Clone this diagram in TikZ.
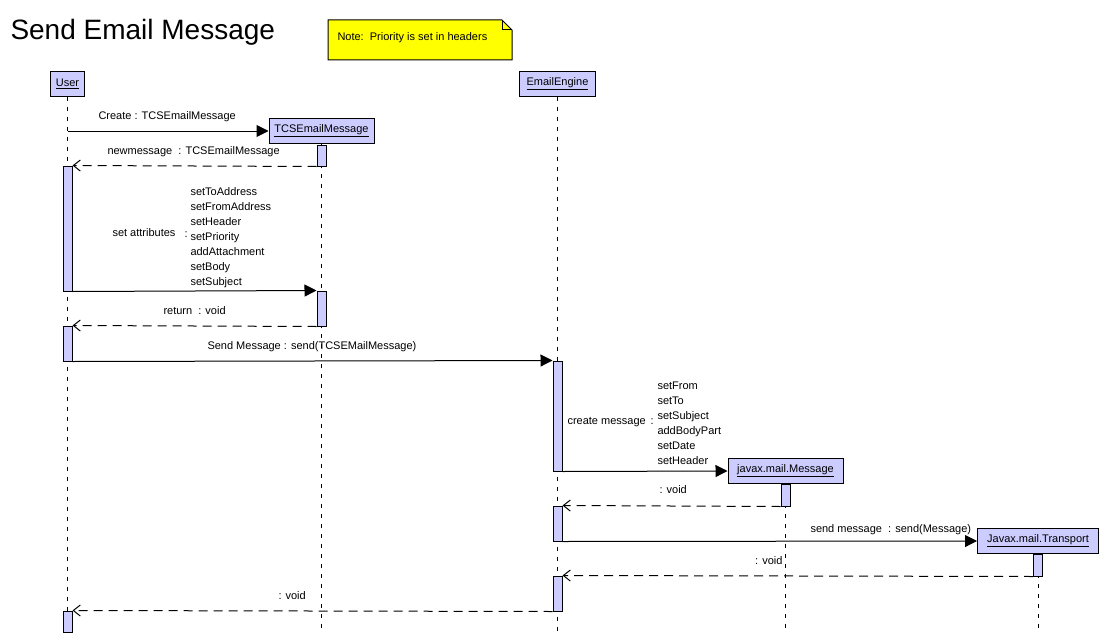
\documentclass[tikz,border=0pt]{standalone}
\usepackage{fontspec}
\setmainfont{Liberation Sans}
\usetikzlibrary{arrows.meta}

\definecolor{objfill}{RGB}{204,204,255}
\definecolor{notefill}{RGB}{255,255,0}

\tikzset{
  obj/.style={draw, fill=objfill, inner sep=0pt, minimum height=25pt},
  act/.style={draw, fill=objfill, inner sep=0pt, minimum width=9pt},
  life/.style={dash pattern=on 4pt off 6pt},
  call/.style={-{Triangle[length=12pt,width=12pt]}},
  reply/.style={dash pattern=on 9pt off 6pt, -{Straight Barb[length=7pt,width=11pt]}},
  txt/.style={inner sep=0pt, anchor=base west}
}

\begin{document}
\begin{tikzpicture}[x=1pt, y=-1pt, line width=1pt, font=\fontsize{11}{13}\selectfont]

	\fill[white] (0,0) rectangle (1110,642);
	\useasboundingbox (0,0) rectangle (1110,642);

	% title and note
	\node[txt, font=\fontsize{28}{32}\selectfont] (title) at (10,40) {Send Email Message};
	\filldraw[fill=notefill] (328,20) -- (502,20) -- (512,30) -- (512,60) -- (328,60) -- cycle;
	\draw (502,20) -- (502,30) -- (512,30);
	\node[txt] (note) at (337,41) {Note:\ \ Priority is set in headers};

	% objects
	\node[obj, minimum width=34pt] (user) at (67.5,83.5) {\underline{User}};
	\node[obj, minimum width=105pt] (tcs) at (321.5,131) {\underline{TCSEmailMessage}};
	\node[obj, minimum width=76pt] (engine) at (557.5,83.5) {\underline{EmailEngine}};
	\node[obj, minimum width=115pt] (javax) at (785.5,471) {\underline{javax.mail.Message}};
	\node[obj, minimum width=121pt] (trans) at (1038,541) {\underline{Javax.mail.Transport}};

	% lifelines
	\coordinate (bottom) at (0,633);
	\draw[life] (user.south) -- (user.south |- bottom);
	\draw[life] (tcs.south) -- (tcs.south |- bottom);
	\draw[life] (engine.south) -- (engine.south |- bottom);
	\draw[life] (javax.south) -- (javax.south |- bottom);
	\draw[life] (trans.south) -- (trans.south |- bottom);

	% activations
	\node[act, minimum height=21pt] (t1) at (321.5,155.5) {};
	\node[act, minimum height=125pt] (u1) at (67.5,228.5) {};
	\node[act, minimum height=35pt] (t2) at (321.5,308.5) {};
	\node[act, minimum height=35pt] (u2) at (67.5,343.5) {};
	\node[act, minimum height=110pt] (e1) at (557.5,416) {};
	\node[act, minimum height=22pt] (j1) at (785.5,495) {};
	\node[act, minimum height=35pt] (e2) at (557.5,523.5) {};
	\node[act, minimum height=22pt] (r1) at (1038,565) {};
	\node[act, minimum height=35pt] (e3) at (557.5,593.5) {};
	\node[act, minimum height=21pt] (u3) at (67.5,621.5) {};

	% messages
	\draw[call] (user.south |- tcs.west) -- (tcs.west);
	\draw[reply] (t1.south west) -- (u1.north east);
	\draw[call] (u1.south east) -- (t2.north west);
	\draw[reply] (t2.south west) -- (u2.north east);
	\draw[call] (u2.south east) -- (e1.north west);
	\draw[call] (e1.south east) -- (javax.west);
	\draw[reply] (j1.south west) -- (e2.north east);
	\draw[call] (e2.south east) -- (trans.west);
	\draw[reply] (r1.south west) -- (e3.north east);
	\draw[reply] (e3.south west) -- (u3.north east);

	% message labels
	\node[txt] (create) at (98,119) {Create : TCSEmailMessage};
	\node[txt] (newmsg) at (107,154) {newmessage\ \ : TCSEmailMessage};

	\node[txt] (setattr) at (112,236) {set attributes};
	\node[txt] (setcolon) at (184,237) {:};
	\node[txt] (sa1) at (190,195) {setToAddress};
	\node[txt] (sa2) at (190,210) {setFromAddress};
	\node[txt] (sa3) at (190,225) {setHeader};
	\node[txt] (sa4) at (190,240) {setPriority};
	\node[txt] (sa5) at (190,255) {addAttachment};
	\node[txt] (sa6) at (190,270) {setBody};
	\node[txt] (sa7) at (190,285) {setSubject};

	\node[txt] (ret) at (163,314) {return\ \ : void};
	\node[txt] (send) at (207,349) {Send Message : send(TCSEMailMessage)};

	\node[txt] (createmsg) at (567,424) {create message};
	\node[txt] (cmcolon) at (650,424) {:};
	\node[txt] (cm1) at (657,389) {setFrom};
	\node[txt] (cm2) at (657,404) {setTo};
	\node[txt] (cm3) at (657,419) {setSubject};
	\node[txt] (cm4) at (657,434) {addBodyPart};
	\node[txt] (cm5) at (657,449) {setDate};
	\node[txt] (cm6) at (657,464) {setHeader};

	\node[txt] (void1) at (659,493) {: void};
	\node[txt] (sendmsg) at (810,532) {send message\ \ : send(Message)};
	\node[txt, anchor=base east] (void2) at (783,564) {: void};
	\node[txt] (void3) at (278,599) {: void};

\end{tikzpicture}
\end{document}
